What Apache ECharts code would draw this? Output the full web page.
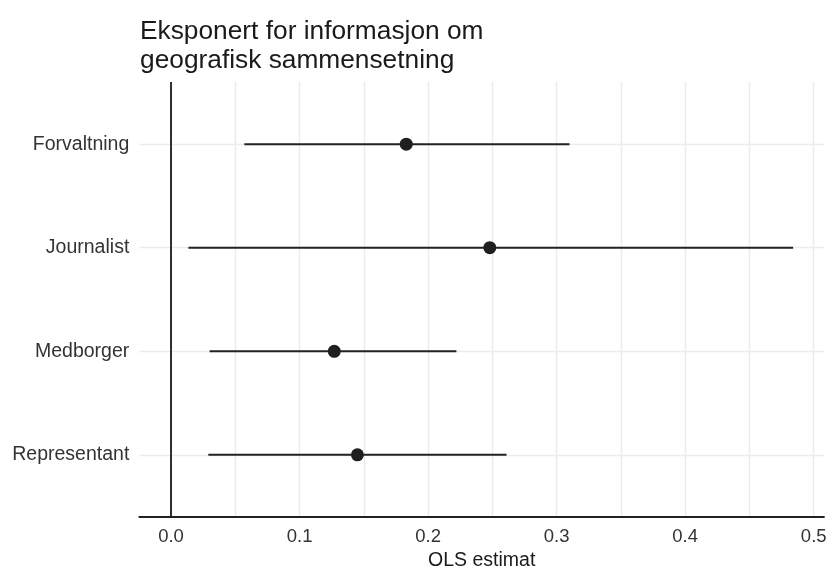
<!DOCTYPE html>
<html>
<head>
<meta charset="utf-8">
<script src="https://cdn.jsdelivr.net/npm/echarts@6/dist/echarts.min.js"></script>
<style>
html,body{margin:0;padding:0;background:#fff;}
#chart{width:829px;height:568px;}
</style>
</head>
<body>
<div id="chart"></div>
<script>
// Categories listed bottom-to-top
const categories = ['Representant', 'Medborger', 'Journalist', 'Forvaltning'];
const estimates  = [0.145, 0.127, 0.248, 0.183];
const lower      = [0.029, 0.030, 0.0135, 0.057];
const upper      = [0.261, 0.222, 0.484, 0.310];
const xTickLabels = [0, 0.1, 0.2, 0.3, 0.4, 0.5];
const xGridValues = [0, 0.05, 0.1, 0.15, 0.2, 0.25, 0.3, 0.35, 0.4, 0.45, 0.5];
const titleText = 'Eksponert for informasjon om\ngeografisk sammensetning';
const xTitle = 'OLS estimat';

const FONT = '"Liberation Sans", Arial, Helvetica, sans-serif';
const catPos = categories.map((c, i) => i + 1);

const chart = echarts.init(document.getElementById('chart'), null, {renderer: 'canvas'});
chart.setOption({
  animation: false,
  backgroundColor: '#ffffff',
  title: {
    text: titleText,
    left: 140,
    top: 17,
    padding: 0,
    textStyle: {fontFamily: FONT, fontSize: 26.3, fontWeight: 'normal', color: '#1a1a1a', lineHeight: 29}
  },
  grid: {left: 139.3, right: 5, top: 82, bottom: 51, containLabel: false, outerBoundsMode: 'none'},
  xAxis: {
    type: 'value',
    min: -0.0247,
    max: 0.508,
    name: xTitle,
    nameLocation: 'middle',
    nameGap: 29,
    nameTextStyle: {fontFamily: FONT, fontSize: 19.5, color: '#1a1a1a'},
    axisLine: {show: true, onZero: false, lineStyle: {color: '#222222', width: 1.8}},
    axisTick: {show: false, customValues: xGridValues},
    axisLabel: {
      customValues: xTickLabels,
      formatter: v => v.toFixed(1),
      fontFamily: FONT, fontSize: 18.5, color: '#333333', margin: 10
    },
    splitLine: {show: true, lineStyle: {color: '#EBEBEB', width: 1.4}}
  },
  yAxis: {
    type: 'value',
    min: 0.4,
    max: 4.6,
    axisLine: {show: false},
    axisTick: {show: false, customValues: catPos},
    axisLabel: {
      customValues: catPos,
      formatter: v => categories[Math.round(v) - 1] || '',
      fontFamily: FONT, fontSize: 19.5, color: '#333333', margin: 10
    },
    splitLine: {show: true, lineStyle: {color: '#EBEBEB', width: 1.4}}
  },
  series: [
    {
      type: 'custom',
      silent: true,
      data: categories.map((c, i) => [lower[i], upper[i], catPos[i]]),
      renderItem: function (params, api) {
        const p1 = api.coord([api.value(0), api.value(2)]);
        const p2 = api.coord([api.value(1), api.value(2)]);
        return {
          type: 'line',
          shape: {x1: p1[0], y1: p1[1], x2: p2[0], y2: p2[1]},
          style: {stroke: '#222222', lineWidth: 2}
        };
      },
      markLine: {
        silent: true,
        symbol: ['none', 'none'],
        label: {show: false},
        lineStyle: {type: 'solid', color: '#1a1a1a', width: 1.8},
        data: [{xAxis: 0}]
      },
      z: 3
    },
    {
      type: 'scatter',
      silent: true,
      symbol: 'circle',
      symbolSize: 13,
      itemStyle: {color: '#1f1f1f', opacity: 1},
      data: categories.map((c, i) => [estimates[i], catPos[i]]),
      z: 4
    }
  ]
});
</script>
</body>
</html>
